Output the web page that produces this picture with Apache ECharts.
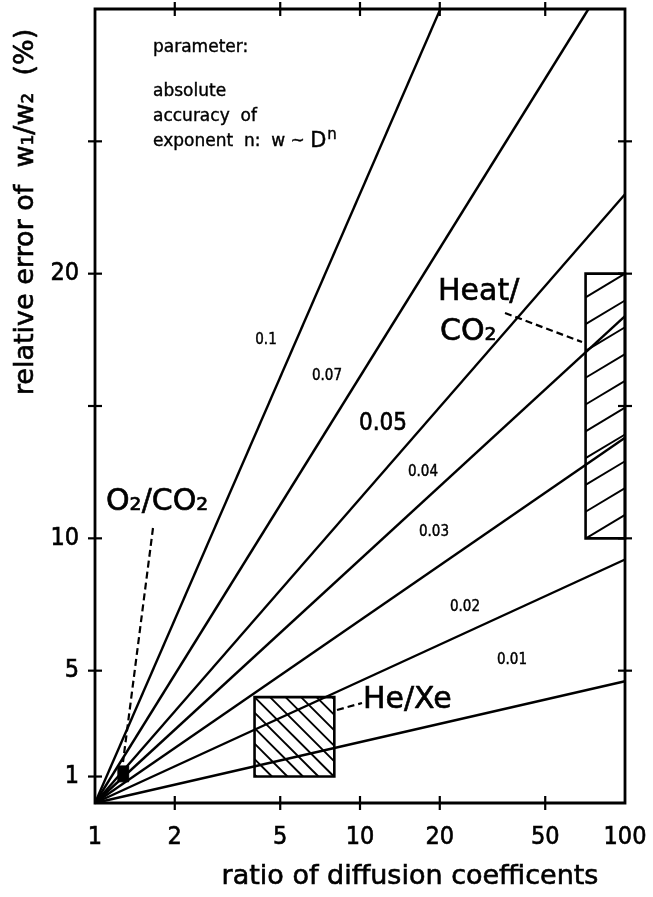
<!DOCTYPE html>
<html>
<head>
<meta charset="utf-8">
<script src="https://cdn.jsdelivr.net/npm/echarts@6/dist/echarts.min.js"></script>
<style>
  html, body { margin: 0; padding: 0; background: #fff; }
  #chart { width: 653px; height: 897px; }
</style>
</head>
<body>
<div id="chart"></div>
<script>
// Absolute accuracy of the exponent n (one straight line per value)
const exponentAccuracy = ['0.01', '0.02', '0.03', '0.04', '0.05', '0.07', '0.1'];
// Every line starts at ratio 1 with zero error
const lineStartRatio = 1;
const lineStartError = 0;
// Where each line leaves the frame: ratio of diffusion coefficients and relative error (%)
const lineEndRatio = [100, 100, 100, 100, 100, 72.8, 20.1];
const lineEndError = [4.6, 9.2, 13.8, 18.4, 23.0, 30, 30];

// Axis ticks and labels
const xLabelValues = [1, 2, 5, 10, 20, 50, 100];
const xTickValues = [2, 5, 10, 20, 50];
const yLabelValues = [1, 5, 10, 20];
const yLeftTickValues = [1, 5, 10, 15, 20, 25];
const yRightTickValues = [5, 10, 15, 20, 25];
const xRange = [1, 100];
const yRange = [0, 30];

// Ranges of the gas pairs: [ratio from, ratio to, error from, error to]
const heatCO2Range = [71, 100, 10, 20];
const heXeRange = [4, 8, 1, 4];
const o2CO2Range = [1.22, 1.34, 0.8, 1.4];

const FONT_C = '"DejaVu Sans Condensed", "Liberation Sans Narrow", "DejaVu Sans", sans-serif';
const FONT = '"DejaVu Sans", "Noto Sans", sans-serif';
const INK = '#000';

const chart = echarts.init(document.getElementById('chart'), null, { renderer: 'canvas' });

// Clip an infinite line (point p, direction d) to a rectangle; returns segment or null
function clipLine(px, py, dx, dy, xmin, ymin, xmax, ymax) {
  let t0 = -1e6, t1 = 1e6;
  const p = [-dx, dx, -dy, dy];
  const q = [px - xmin, xmax - px, py - ymin, ymax - py];
  for (let i = 0; i < 4; i++) {
    if (p[i] === 0) { if (q[i] < 0) return null; continue; }
    const t = q[i] / p[i];
    if (p[i] < 0) { if (t > t1) return null; if (t > t0) t0 = t; }
    else { if (t < t0) return null; if (t < t1) t1 = t; }
  }
  if (t1 - t0 < 1) return null;
  return [px + t0 * dx, py + t0 * dy, px + t1 * dx, py + t1 * dy];
}

// Rectangle with hatching. style: 'up' = rising to the right, 'down' = falling, 'solid' = filled
function boxRenderer(style) {
  return function (params, api) {
    const lb = api.coord([api.value(0), api.value(2)]);
    const rt = api.coord([api.value(1), api.value(3)]);
    const xmin = Math.min(lb[0], rt[0]), xmax = Math.max(lb[0], rt[0]);
    const ymin = Math.min(lb[1], rt[1]), ymax = Math.max(lb[1], rt[1]);
    const w = xmax - xmin, h = ymax - ymin;
    const children = [];
    if (style === 'solid') {
      children.push({ type: 'rect', shape: { x: xmin, y: ymin, width: w, height: h },
        style: { fill: INK, stroke: INK, lineWidth: 1 } });
      return { type: 'group', children };
    }
    if (style === 'up') {
      const step = 26.8, rise = 0.6;
      for (let k = -2; k <= 14; k++) {
        const seg = clipLine(xmax, ymin + k * step, -1, rise, xmin, ymin, xmax, ymax);
        if (seg) children.push({ type: 'line', shape: { x1: seg[0], y1: seg[1], x2: seg[2], y2: seg[3] },
          style: { stroke: INK, lineWidth: 1.9 } });
      }
    } else {
      const step = 15.5;
      for (let k = -8; k <= 8; k++) {
        const seg = clipLine(xmin + k * step, ymin, 1, 1, xmin, ymin, xmax, ymax);
        if (seg) children.push({ type: 'line', shape: { x1: seg[0], y1: seg[1], x2: seg[2], y2: seg[3] },
          style: { stroke: INK, lineWidth: 1.9 } });
      }
    }
    children.push({ type: 'rect', shape: { x: xmin, y: ymin, width: w, height: h },
      style: { fill: 'none', stroke: INK, lineWidth: 2.6 } });
    return { type: 'group', children };
  };
}

// Short tick marks that cross the frame; side: 'x' (bottom and top) or 'y'
function tickRenderer(side) {
  const half = 7;
  return function (params, api) {
    const p = api.coord([api.value(0), api.value(1)]);
    const children = [];
    if (side === 'x') {
      const top = api.coord([api.value(0), yRange[1]]);
      [p[1], top[1]].forEach(function (y) {
        children.push({ type: 'line', shape: { x1: p[0], y1: y - half, x2: p[0], y2: y + half },
          style: { stroke: INK, lineWidth: 2.2 } });
      });
    } else {
      children.push({ type: 'line', shape: { x1: p[0] - half, y1: p[1], x2: p[0] + half, y2: p[1] },
        style: { stroke: INK, lineWidth: 2.2 } });
    }
    return { type: 'group', children };
  };
}

function tickSeries(points, side) {
  return {
    type: 'custom', xAxisIndex: 0, yAxisIndex: 0, silent: true, clip: false,
    renderItem: tickRenderer(side),
    encode: { x: 0, y: 1 },
    data: points, z: 6
  };
}

const lineSeries = exponentAccuracy.map((name, i) => ({
  name: name,
  type: 'line',
  xAxisIndex: 0,
  yAxisIndex: 0,
  symbol: 'none',
  silent: true,
  clip: false,
  lineStyle: { color: INK, width: 2.4 },
  data: [[lineStartRatio, lineStartError], [lineEndRatio[i], lineEndError[i]]],
  z: 3
}));

function boxSeries(range, style) {
  return {
    type: 'custom',
    xAxisIndex: 0,
    yAxisIndex: 0,
    silent: true,
    clip: false,
    renderItem: boxRenderer(style),
    encode: { x: [0, 1], y: [2, 3] },
    data: [range],
    z: 4
  };
}

function txt(text, x, y, size, opts) {
  return Object.assign({
    type: 'text', x: x, y: y, silent: true, z: 10,
    style: Object.assign({
      text: text, fontSize: size, fontFamily: FONT, fill: INK,
      stroke: INK, lineWidth: 0.6,
      textAlign: 'left', textVerticalAlign: 'middle'
    }, (opts && opts.style) || {})
  }, (opts && opts.el) || {});
}

function dashed(x1, y1, x2, y2) {
  return { type: 'line', silent: true, z: 10,
    shape: { x1, y1, x2, y2 },
    style: { stroke: INK, lineWidth: 2.2, lineDash: [7, 4] } };
}

const labelStyle = { fontSize: 25, fontFamily: FONT_C, color: INK, textBorderColor: INK, textBorderWidth: 0.6 };
const smallLabel = { textAlign: 'center', fontFamily: FONT_C, lineWidth: 0.4 };
const noteStyle = { lineWidth: 0.4 };

const option = {
  backgroundColor: '#fff',
  animation: false,
  grid: {
    left: 95, right: 28, top: 9, bottom: 94,
    show: true, borderColor: INK, borderWidth: 2.8, backgroundColor: 'transparent'
  },
  xAxis: {
    type: 'log', logBase: 10, min: xRange[0], max: xRange[1], position: 'bottom',
    axisLine: { show: false },
    axisTick: { show: false },
    axisLabel: Object.assign({ customValues: xLabelValues, margin: 22 }, labelStyle),
    splitLine: { show: false }, minorTick: { show: false }
  },
  yAxis: {
    type: 'value', min: yRange[0], max: yRange[1], position: 'left',
    axisLine: { show: false },
    axisTick: { show: false },
    axisLabel: Object.assign({ customValues: yLabelValues, margin: 16 }, labelStyle),
    splitLine: { show: false }
  },
  series: lineSeries.concat([
    boxSeries(heatCO2Range, 'up'),
    boxSeries(heXeRange, 'down'),
    boxSeries(o2CO2Range, 'solid'),
    tickSeries(xTickValues.map(v => [v, yRange[0]]), 'x'),
    tickSeries(yLeftTickValues.map(v => [xRange[0], v]), 'y'),
    tickSeries(yRightTickValues.map(v => [xRange[1], v]), 'y')
  ]),
  graphic: [
    // axis titles
    txt('ratio of diffusion coefficents', 410, 877, 27, { style: { textAlign: 'center' } }),
    txt('relative error of  w\u2081/w\u2082  (%)', 26, 212, 27,
      { style: { textAlign: 'center' }, el: { rotation: Math.PI / 2 } }),
    // parameter note
    txt('parameter:', 153, 48, 17, { style: noteStyle }),
    txt('absolute', 153, 92, 17, { style: noteStyle }),
    txt('accuracy  of', 153, 117, 17, { style: noteStyle }),
    txt('{a|exponent  n:  w ~ }{d|D}{s|n}', 153, 142, 17, { style: {
      lineWidth: 0.4,
      rich: {
        a: { fontSize: 17, fontFamily: FONT, fill: INK },
        d: { fontSize: 21, fontFamily: FONT, fill: INK },
        s: { fontSize: 15, fontFamily: FONT, fill: INK, padding: [0, 0, 14, 1] }
      }
    } }),
    // line labels
    txt('0.1', 266, 340, 15, { style: smallLabel }),
    txt('0.07', 327, 376, 15, { style: smallLabel }),
    txt('0.05', 383, 424, 24, { style: { textAlign: 'center', fontFamily: FONT_C } }),
    txt('0.04', 423, 472, 15, { style: smallLabel }),
    txt('0.03', 434, 532, 15, { style: smallLabel }),
    txt('0.02', 465, 607, 15, { style: smallLabel }),
    txt('0.01', 512, 660, 15, { style: smallLabel }),
    // gas pair labels
    txt('O\u2082/CO\u2082', 106, 502, 30),
    txt('Heat/', 438, 292, 30),
    txt('CO\u2082', 440, 332, 30),
    txt('He/Xe', 363, 700, 30),
    // leaders
    dashed(153, 528, 123, 762),
    dashed(505, 313, 582, 342),
    dashed(337, 710, 362, 703)
  ]
};

chart.setOption(option);
</script>
</body>
</html>
